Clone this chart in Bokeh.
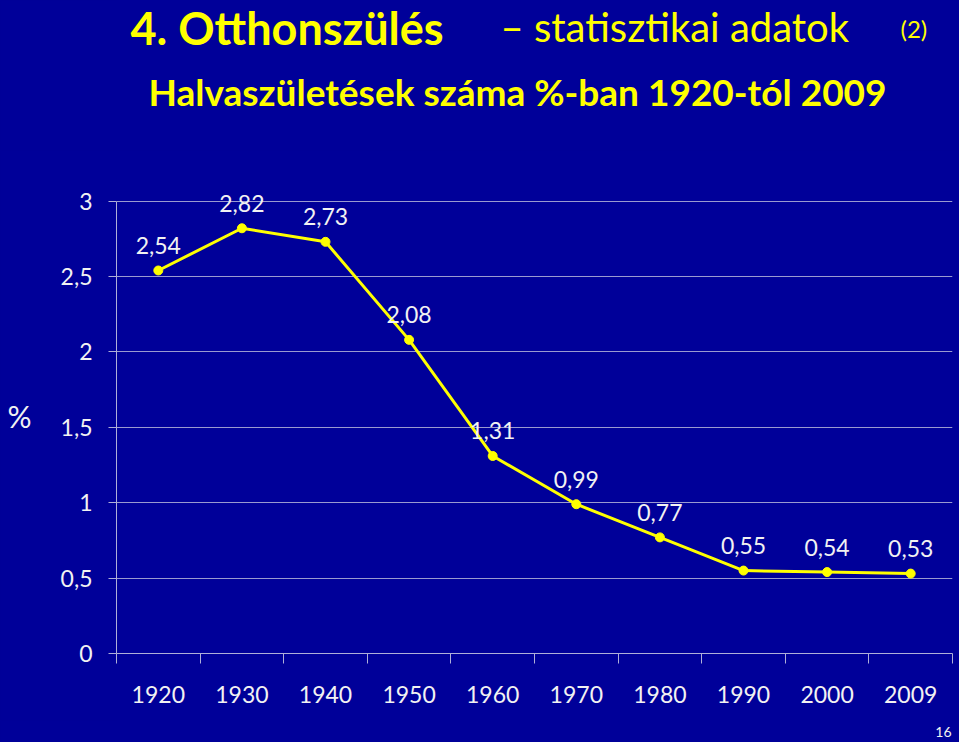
from bokeh.plotting import figure
from bokeh.models import Range1d, FixedTicker, LabelSet, ColumnDataSource
from bokeh.core.properties import value
from bokeh.layouts import column
from bokeh.embed import file_html
from bokeh.resources import INLINE

years = ["1920", "1930", "1940", "1950", "1960", "1970", "1980", "1990", "2000", "2009"]
values = [2.54, 2.82, 2.73, 2.08, 1.31, 0.99, 0.77, 0.55, 0.54, 0.53]
value_labels = ["2,54", "2,82", "2,73", "2,08", "1,31", "0,99", "0,77", "0,55", "0,54", "0,53"]
y_ticks = [0, 0.5, 1, 1.5, 2, 2.5, 3]
y_tick_labels = ["0", "0,5", "1", "1,5", "2", "2,5", "3"]

BG = "#000099"
YEL = "#FFFF00"
WHITE = "#F2F2F2"
FONT = "Lato"

W = 959
H_HEAD = 150
H_FOOT = 22
H_CHART = 742 - H_HEAD - H_FOOT
BL, BR = 116, 7


def blank_fig(height, y0, y1):
    f = figure(width=W, height=height, output_backend="svg", toolbar_location=None,
               title=None, x_range=Range1d(BL, W - BR), y_range=Range1d(y0, y1),
               x_axis_type=None, y_axis_type=None,
               min_border_left=BL, min_border_right=BR, min_border_top=0, min_border_bottom=0)
    f.background_fill_color = BG
    f.border_fill_color = BG
    f.outline_line_color = None
    f.xgrid.grid_line_color = None
    f.ygrid.grid_line_color = None
    return f


def ftext(f, x, y, t, size, style="normal", color=YEL, align="left", baseline="alphabetic"):
    f.text(x=[x], y=[y], text=[t], text_font=value(FONT), text_font_size=size,
           text_font_style=style, text_color=color, text_align=align,
           text_baseline=baseline)


# ---------- header (title lines); coordinates = page pixels ----------
head = blank_fig(H_HEAD, H_HEAD, 0)
ftext(head, 130, 27, "4. Otthonszülés", "45px", "bold")
ftext(head, 500, 26, "– statisztikai adatok", "40px")
ftext(head, 900, 28, "(2)", "24px")
ftext(head, 148, 91, "Halvaszületések száma %-ban 1920-tól 2009", "37px", "bold")

# ---------- footer (page number) ----------
foot = blank_fig(H_FOOT, 742, 742 - H_FOOT)
ftext(foot, 951, 731, "16", "14px", color=WHITE, align="right", baseline="middle")

# ---------- chart ----------
idx = list(range(len(years)))

p = figure(width=W, height=H_CHART, output_backend="svg", toolbar_location=None,
           x_range=Range1d(-0.5, len(years) - 0.5), y_range=Range1d(0, 3.15),
           min_border_left=BL, min_border_right=BR, min_border_top=28,
           min_border_bottom=89 - H_FOOT)
p.background_fill_color = BG
p.border_fill_color = BG
p.outline_line_color = None

p.xaxis.ticker = FixedTicker(ticks=idx, minor_ticks=[i - 0.5 for i in range(len(years) + 1)])
p.xaxis.major_label_overrides = {i: y for i, y in zip(idx, years)}
p.xaxis.major_tick_out = 0
p.xaxis.major_tick_in = 0
p.xaxis.minor_tick_out = 10
p.xaxis.minor_tick_in = 0
p.xaxis.minor_tick_line_color = "#B0B0D8"
p.xaxis.axis_line_color = "#B0B0D8"
p.xaxis.major_label_text_color = WHITE
p.xaxis.major_label_text_font = FONT
p.xaxis.major_label_text_font_size = "23px"
p.xaxis.major_label_standoff = 22

p.yaxis.ticker = FixedTicker(ticks=y_ticks)
p.yaxis.bounds = (0, 3)
p.yaxis.major_label_overrides = {t: l for t, l in zip(y_ticks, y_tick_labels)}
p.yaxis.major_tick_out = 8
p.yaxis.major_tick_in = 0
p.yaxis.minor_tick_out = 0
p.yaxis.minor_tick_in = 0
p.yaxis.major_tick_line_color = "#B0B0D8"
p.yaxis.axis_line_color = "#B0B0D8"
p.yaxis.major_label_text_color = WHITE
p.yaxis.major_label_text_font = FONT
p.yaxis.major_label_text_font_size = "23px"
p.yaxis.major_label_standoff = 16
p.yaxis.axis_label = "%"
p.yaxis.axis_label_orientation = "horizontal"
p.yaxis.axis_label_text_color = WHITE
p.yaxis.axis_label_text_font = FONT
p.yaxis.axis_label_text_font_size = "30px"
p.yaxis.axis_label_text_font_style = "normal"
p.yaxis.axis_label_standoff = 26

p.xgrid.grid_line_color = None
p.ygrid.grid_line_color = "#9A9AD0"
p.ygrid.grid_line_width = 1

src = ColumnDataSource(dict(x=idx, y=values, lab=value_labels))
p.line("x", "y", source=src, line_color=YEL, line_width=3)
p.scatter("x", "y", source=src, size=9, fill_color=YEL, line_color=YEL)

labels = LabelSet(x="x", y="y", text="lab", source=src, text_align="center",
                  text_baseline="middle", y_offset=25, text_color=WHITE,
                  text_font=value(FONT), text_font_size="23px")
p.add_layout(labels)

layout = column(head, p, foot, spacing=0)
layout.styles = {"background-color": BG}

open("out.html", "w").write(file_html(layout, INLINE))
